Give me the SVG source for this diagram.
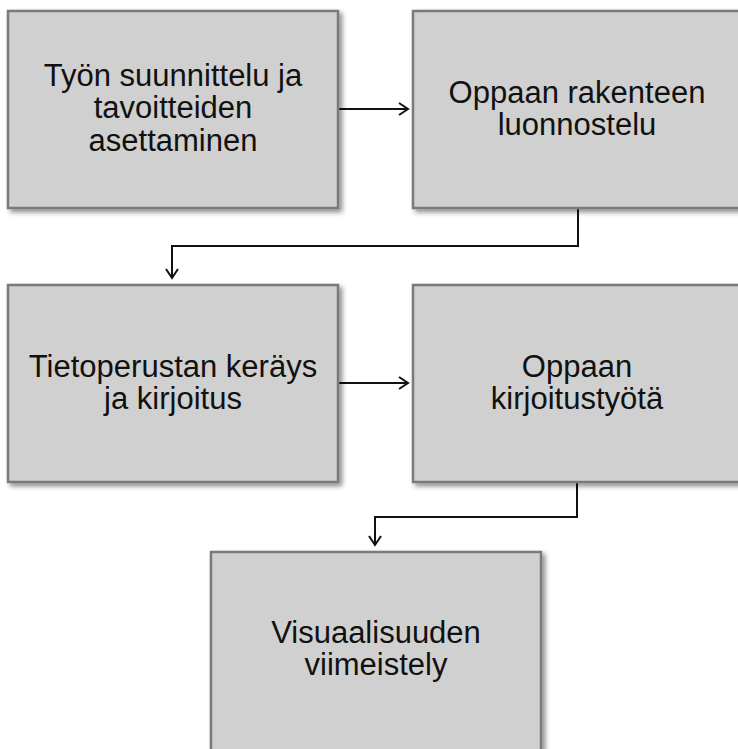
<svg xmlns="http://www.w3.org/2000/svg" width="738" height="749" viewBox="0 0 738 749">
<style>
.box{fill:#d0d0d0;stroke:#7a7a7a;stroke-width:2.5;filter:url(#sh)}
.t{font-family:"Liberation Sans",Arial,sans-serif;font-size:31px;fill:#111;text-anchor:middle}
.c{fill:none;stroke:#111;stroke-width:2;marker-end:url(#ah)}
</style>
<defs>
<filter id="sh" x="-10%" y="-10%" width="130%" height="130%">
<feDropShadow dx="3" dy="3" stdDeviation="2.5" flood-color="#000" flood-opacity="0.45"/>
</filter>
<marker id="ah" markerWidth="14" markerHeight="14" refX="11" refY="7" orient="auto" markerUnits="userSpaceOnUse">
<path d="M2,1 L11,7 L2,13" fill="none" stroke="#111" stroke-width="2"/>
</marker>
</defs>
<g id="connectors">
<path class="c" d="M339,109 H408"/>
<path class="c" d="M578,209 V246 H172 V278"/>
<path class="c" d="M339,383 H408"/>
<path class="c" d="M577,483 V517 H375 V545"/>
</g>
<g id="n1">
<rect class="box" x="8" y="11" width="330" height="197"/>
<text class="t" x="173" y="86">Työn suunnittelu ja</text>
<text class="t" x="173" y="118">tavoitteiden</text>
<text class="t" x="173" y="151">asettaminen</text>
</g>
<g id="n2">
<rect class="box" x="413" y="11" width="330" height="197"/>
<text class="t" x="577" y="103">Oppaan rakenteen</text>
<text class="t" x="577" y="135">luonnostelu</text>
</g>
<g id="n3">
<rect class="box" x="8" y="285" width="330" height="197"/>
<text class="t" x="173" y="377">Tietoperustan keräys</text>
<text class="t" x="173" y="409">ja kirjoitus</text>
</g>
<g id="n4">
<rect class="box" x="413" y="285" width="330" height="197"/>
<text class="t" x="577" y="377">Oppaan</text>
<text class="t" x="577" y="409">kirjoitustyötä</text>
</g>
<g id="n5">
<rect class="box" x="211" y="552" width="330" height="205"/>
<text class="t" x="376" y="643">Visuaalisuuden</text>
<text class="t" x="376" y="675">viimeistely</text>
</g>
</svg>
